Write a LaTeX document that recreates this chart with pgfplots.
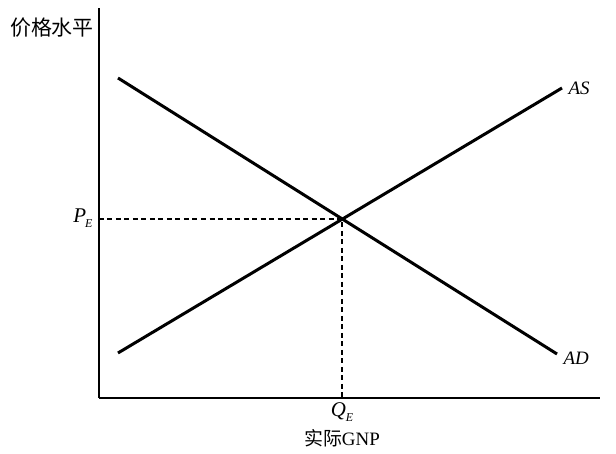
\documentclass[border=0pt]{standalone}
\usepackage{pgfplots}
\pgfplotsset{compat=1.18}
\usepackage{fontspec}
\setmainfont{Liberation Serif}
\newfontfamily\cjk{Noto Sans CJK SC}
\newcommand{\sub}[1]{\raisebox{-0.45ex}{\fontsize{12}{12}\selectfont\itshape #1}}
\begin{document}
\begin{tikzpicture}[x=1bp,y=1bp]
\begin{axis}[
  scale only axis, width=501bp, height=390bp,
  xmin=0, xmax=501, ymin=0, ymax=390,
  axis lines=left, axis line style={line width=1.6bp,-},
  xtick=\empty, ytick=\empty, clip=false,
]
\path[use as bounding box] (axis cs:-99,-56) rectangle (axis cs:517,398);
% AD
\addplot[black, line width=3bp] coordinates {(19,320) (458,44)};
% AS
\addplot[black, line width=3bp] coordinates {(19,45) (463,310)};
% dashed guides
\addplot[black, line width=1.2bp, dash pattern=on 5bp off 3.5bp] coordinates {(0,179) (243,179) (243,0)};
\node[font=\fontsize{19}{19}\selectfont\itshape, anchor=west] at (axis cs:466,310) {AS};
\node[font=\fontsize{19}{19}\selectfont\itshape, anchor=west] at (axis cs:461,40) {AD};
\node[font=\fontsize{21}{21}\selectfont\itshape, anchor=east] at (axis cs:-3,180) {P\kern-1pt\sub{E}};
\node[font=\fontsize{21}{21}\selectfont\itshape] at (axis cs:243,-14) {Q\sub{E}};
\node[font=\fontsize{19}{19}\selectfont] at (axis cs:243,-40) {{\cjk 实际}GNP};
\node[font=\cjk\fontsize{21}{21}\selectfont] at (axis cs:-47,370) {价格水平};
\end{axis}
\end{tikzpicture}
\end{document}
